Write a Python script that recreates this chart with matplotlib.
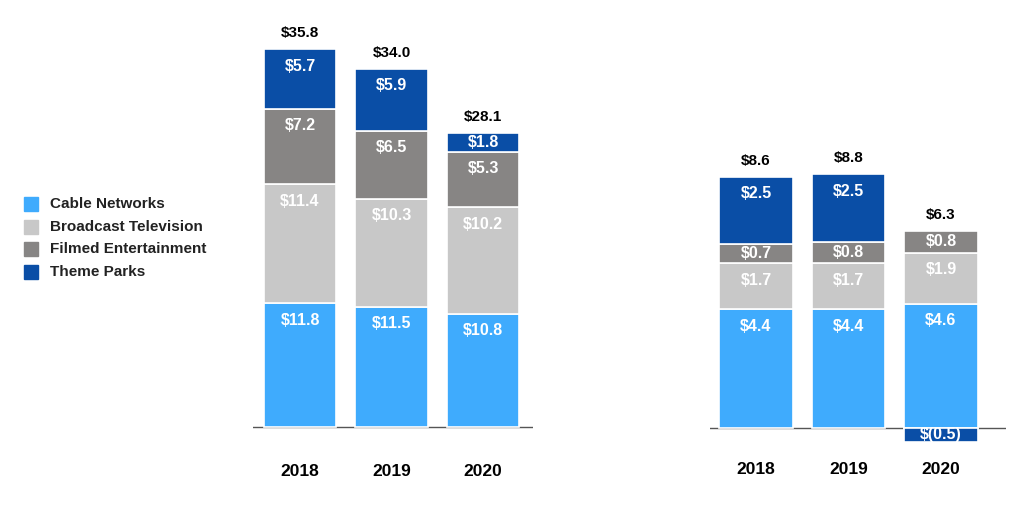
import numpy as np
import matplotlib.pyplot as plt

plt.rcParams['font.family'] = ['Liberation Sans', 'DejaVu Sans']

years = ['2018', '2019', '2020']
segments = ['Cable Networks', 'Broadcast Television', 'Filmed Entertainment', 'Theme Parks']
colors = ['#3fabfd', '#c8c8c8', '#878584', '#0a4ea6']

# revenue ($ billions)
rev_cable = [11.8, 11.5, 10.8]
rev_broadcast = [11.4, 10.3, 10.2]
rev_filmed = [7.2, 6.5, 5.3]
rev_parks = [5.7, 5.9, 1.8]
rev_total = [35.8, 34.0, 28.1]

# adjusted EBITDA ($ billions)
ebitda_cable = [4.4, 4.4, 4.6]
ebitda_broadcast = [1.7, 1.7, 1.9]
ebitda_filmed = [0.7, 0.8, 0.8]
ebitda_parks = [2.5, 2.5, -0.5]
ebitda_total = [8.6, 8.8, 6.3]

fig = plt.figure(figsize=(10.31, 5.27), dpi=100)
W, H = 1031, 527


def fmt(v):
    return f'$({abs(v):.1f})' if v < 0 else f'${v:.1f}'


def draw_panel(rect, ylim, xlim, series, totals, px_per_unit, year_y):
    ax = fig.add_axes(rect)
    x = np.arange(len(years))
    ax.axhline(0, color='#555555', lw=1, zorder=0)
    pos_bottom = np.zeros(len(years))
    neg_bottom = np.zeros(len(years))
    for vals, c in zip(series, colors):
        vals = np.array(vals, dtype=float)
        bottom = np.where(vals >= 0, pos_bottom, neg_bottom)
        ax.bar(x, vals, 0.79, bottom=bottom, color=c, edgecolor='white',
               linewidth=1.2, zorder=2)
        for xi, v, b in zip(x, vals, bottom):
            if v >= 0:
                top = b + v
                off = min(17 / px_per_unit, v / 2)
                ty = top - off
            else:
                ty = b + v / 2
            ax.text(xi, ty, fmt(v), ha='center', va='center', color='white',
                    fontsize=11.5, fontweight='bold', zorder=3)
        pos_bottom += np.where(vals >= 0, vals, 0)
        neg_bottom += np.where(vals < 0, vals, 0)
    for xi, top, t in zip(x, pos_bottom, totals):
        ax.text(xi, top + 16 / px_per_unit, fmt(t), ha='center', va='center',
                color='black', fontsize=11, fontweight='bold')
    for xi, yr in zip(x, years):
        ax.text(xi, year_y, yr, ha='center', va='center', color='black',
                fontsize=12.5, fontweight='bold')
    ax.set_xlim(*xlim)
    ax.set_ylim(*ylim)
    ax.axis('off')
    return ax


# left panel: revenue
s1 = 10.47
lo1, hi1 = -5, 38
draw_panel([253 / W, (100 + lo1 * s1) / H, 280 / W, (hi1 - lo1) * s1 / H],
           (lo1, hi1), (-0.514, 2.546),
           [rev_cable, rev_broadcast, rev_filmed, rev_parks], rev_total, s1,
           -44 / s1)

# right panel: adjusted EBITDA
s2 = 27.0
lo2, hi2 = -2, 10
draw_panel([710 / W, (99 + lo2 * s2) / H, 296 / W, (hi2 - lo2) * s2 / H],
           (lo2, hi2), (-0.497, 2.703),
           [ebitda_cable, ebitda_broadcast, ebitda_filmed, ebitda_parks], ebitda_total, s2,
           -41 / s2)

# legend
for i, (name, c) in enumerate(zip(segments, colors)):
    yc = 1 - (204 + i * 22.7) / H
    fig.patches.append(plt.Rectangle((24 / W, yc - 7 / H), 14 / W, 14 / H,
                                     transform=fig.transFigure, color=c))
    fig.text(50 / W, yc, name, ha='left', va='center', fontsize=11,
             fontweight='bold', color='#222222')

fig.savefig('out.png', dpi=100)
